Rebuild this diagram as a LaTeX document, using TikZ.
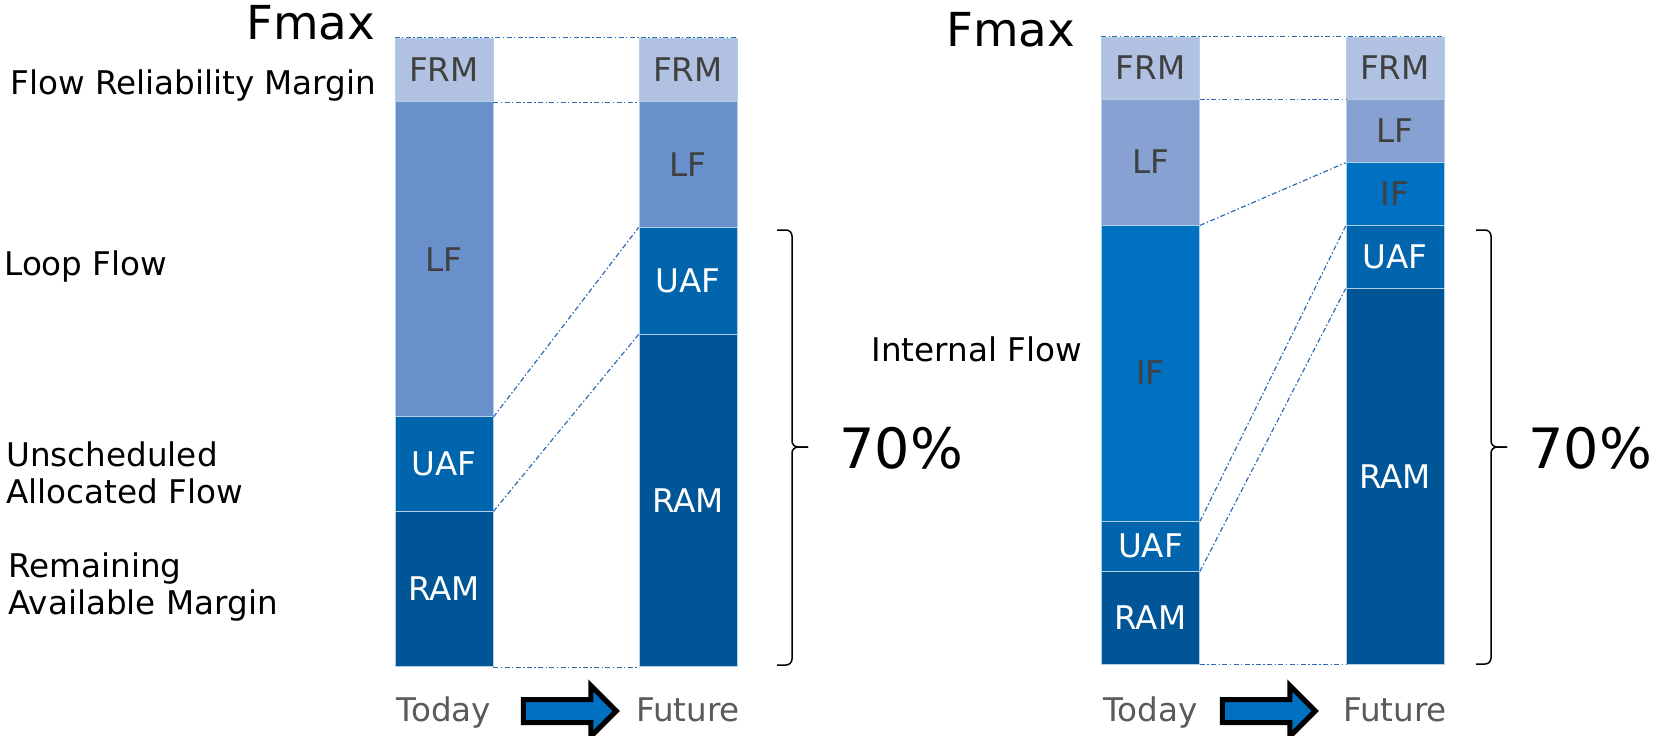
\documentclass[tikz,border=0pt]{standalone}
\usepackage{fontspec}
\setmainfont{DejaVu Sans}
\usetikzlibrary{shapes.arrows}

\definecolor{cFRM}{HTML}{B1C1E1}
\definecolor{cLFa}{HTML}{6A90CB}
\definecolor{cLFb}{HTML}{87A2D2}
\definecolor{cIF}{HTML}{0071C1}
\definecolor{cUAF}{HTML}{0065AD}
\definecolor{cRAM}{HTML}{005596}
\definecolor{cLink}{HTML}{2E6CB5}
\definecolor{cDark}{HTML}{404040}
\definecolor{cGrey}{HTML}{5A5A5A}

\tikzset{
    txt/.style={inner sep=0pt, font=\fontsize{16.3}{18.5}\selectfont},
    seg/.style={txt, draw=white!70!cUAF, line width=0.4pt, minimum width=49pt},
    dark/.style={seg, text=cDark},
    light/.style={seg, text=white},
    link/.style={cLink, line width=0.6pt, dash pattern=on 2.5pt off 1.2pt on 0.7pt off 1.2pt},
    brc/.style={line width=0.75pt, rounded corners=3pt},
    fatarrow/.style={single arrow, draw=black, line width=2.5pt, fill=cIF, inner sep=0pt,
        inner ysep=4.5pt, minimum height=46.5pt, single arrow head extend=7pt},
}

\begin{document}
\begin{tikzpicture}[x=0.5pt, y=-0.5pt]
    \useasboundingbox (0,0) rectangle (1656,735);

    % left panel, today
    \node (frm1) at (444,69.85) [dark, fill=cFRM, minimum height=31.85pt] {FRM};
    \node (lf1) at (444,259.2) [dark, fill=cLFa, minimum height=157.5pt] {LF};
    \node (uaf1) at (444,463.85) [light, fill=cUAF, minimum height=47.15pt] {UAF};
    \node (ram1) at (444,588.85) [light, fill=cRAM, minimum height=77.85pt] {RAM};

    % left panel, future
    \node (frm2) at (688,69.85) [dark, fill=cFRM, minimum height=31.85pt] {FRM};
    \node (lf2) at (688,164.35) [dark, fill=cLFa, minimum height=62.65pt] {LF};
    \node (uaf2) at (688,280.5) [light, fill=cUAF, minimum height=53.5pt] {UAF};
    \node (ram2) at (688,500.35) [light, fill=cRAM, minimum height=166.35pt] {RAM};

    \draw[link] (frm1.north west) -- (frm2.north east);
    \draw[link] (frm1.south east) -- (frm2.south west);
    \draw[link] (lf1.south east) -- (lf2.south west);
    \draw[link] (uaf1.south east) -- (uaf2.south west);
    \draw[link] (ram1.south east) -- (ram2.south west);

    \node (fmax1) at (246,39) [txt, anchor=base west, font=\fontsize{23.4}{26}\selectfont] {Fmax};
    \node (n1) at (10,94.3) [txt, anchor=base west] {Flow Reliability Margin};
    \node (n2) at (4,275.7) [txt, anchor=base west] {Loop Flow};
    \node (n3) at (6,503.3) [txt, anchor=base west, align=left] {Unscheduled\\Allocated Flow};
    \node (n4) at (8,614.3) [txt, anchor=base west, align=left] {Remaining\\Available Margin};

    % brace
    \coordinate (b1) at (777,230);
    \coordinate (b2) at (777,665);
    \coordinate (tip1) at (808,447);
    \draw[brc] (b1) -- ++(15,0) |- (tip1);
    \draw[brc] (b2) -- ++(15,0) |- (tip1);
    \node (p1) at (839,448) [txt, anchor=west, font=\fontsize{27.8}{30}\selectfont] {70\%};

    \node (t1) at (444,721.5) [txt, anchor=base, text=cGrey] {Today};
    \node (ar1) at (564,711) [fatarrow] {};
    \node (f1) at (688,721.5) [txt, anchor=base, text=cGrey] {Future};

    % right panel, today
    \node (frm3) at (1150.5,68) [dark, fill=cFRM, minimum height=31pt] {FRM};
    \node (lf3) at (1150.5,162) [dark, fill=cLFb, minimum height=63pt] {LF};
    \node (if3) at (1150.5,373) [dark, fill=cIF, minimum height=148pt] {IF};
    \node (uaf3) at (1150.5,546) [light, fill=cUAF, minimum height=25pt] {UAF};
    \node (ram3) at (1150.5,617.5) [light, fill=cRAM, minimum height=46.5pt] {RAM};

    % right panel, future
    \node (frm4) at (1395,68) [dark, fill=cFRM, minimum height=31pt] {FRM};
    \node (lf4) at (1395,130.65) [dark, fill=cLFb, minimum height=31.65pt] {LF};
    \node (if4) at (1395,194) [dark, fill=cIF, minimum height=31.7pt] {IF};
    \node (uaf4) at (1395,257) [light, fill=cUAF, minimum height=31.3pt] {UAF};
    \node (ram4) at (1395,476.15) [light, fill=cRAM, minimum height=187.85pt] {RAM};

    \draw[link] (frm3.north west) -- (frm4.north east);
    \draw[link] (frm3.south east) -- (frm4.south west);
    \draw[link] (lf3.south east) -- (lf4.south west);
    \draw[link] (if3.south east) -- (if4.south west);
    \draw[link] (uaf3.south east) -- (uaf4.south west);
    \draw[link] (ram3.south east) -- (ram4.south west);

    \node (fmax2) at (946,46.7) [txt, anchor=base west, font=\fontsize{23.4}{26}\selectfont] {Fmax};
    \node (n5) at (871,361) [txt, anchor=base west] {Internal Flow};

    % brace
    \coordinate (b3) at (1476,230);
    \coordinate (b4) at (1476,664);
    \coordinate (tip2) at (1507,447);
    \draw[brc] (b3) -- ++(15,0) |- (tip2);
    \draw[brc] (b4) -- ++(15,0) |- (tip2);
    \node (p2) at (1528,448) [txt, anchor=west, font=\fontsize{27.8}{30}\selectfont] {70\%};

    \node (t2) at (1150.5,721.5) [txt, anchor=base, text=cGrey] {Today};
    \node (ar2) at (1263,711) [fatarrow] {};
    \node (f2) at (1395,721.5) [txt, anchor=base, text=cGrey] {Future};
\end{tikzpicture}
\end{document}
